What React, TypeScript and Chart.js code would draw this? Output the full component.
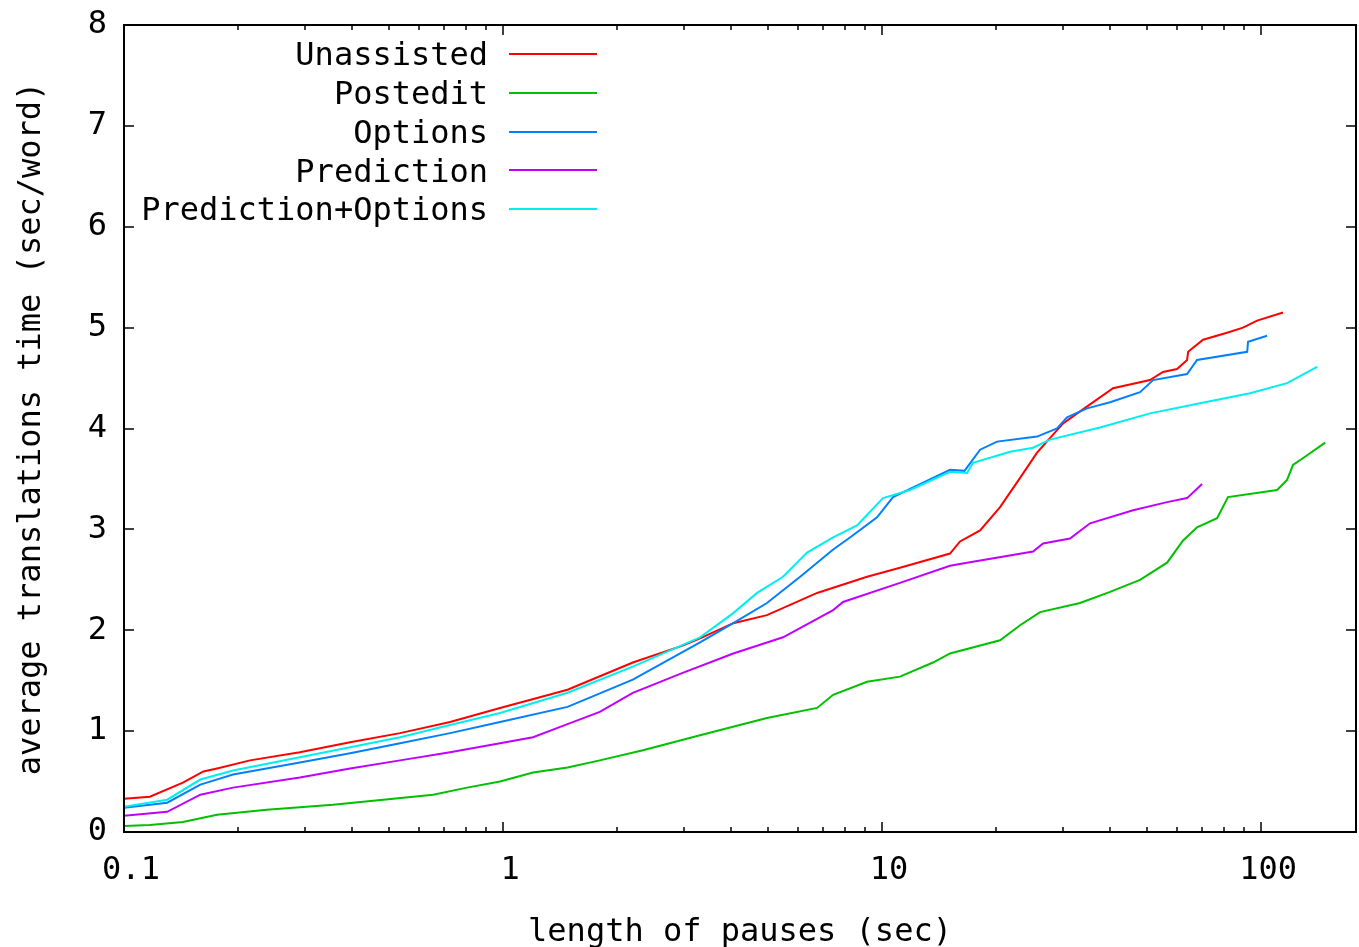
import React, { useEffect, useRef } from "react";
import { Chart, registerables } from "chart.js";
Chart.register(...registerables);

const seriesNames = ["Unassisted", "Postedit", "Options", "Prediction", "Prediction+Options"];
const seriesColors = ["#ff0000", "#00c000", "#0080ff", "#c000ff", "#00eeee"];

const unassistedX = [0.1, 0.117, 0.143, 0.162, 0.176, 0.215, 0.291, 0.395, 0.535, 0.725, 0.982, 1.48, 2.2, 2.99, 3.31, 4.05, 4.97, 6.74, 9.13, 11.15, 15.11, 16.06, 18.14, 20.48, 23.13, 25.64, 30.03, 33.3, 40.69, 50.94, 55.1, 60.0, 63.8, 64.2, 70.3, 81.3, 89.6, 97.6, 114.3];
const unassistedY = [0.33, 0.35, 0.49, 0.6, 0.63, 0.71, 0.79, 0.89, 0.98, 1.09, 1.23, 1.41, 1.68, 1.85, 1.92, 2.07, 2.15, 2.37, 2.53, 2.62, 2.76, 2.88, 2.99, 3.22, 3.51, 3.76, 4.05, 4.17, 4.4, 4.48, 4.56, 4.59, 4.68, 4.76, 4.88, 4.95, 5.0, 5.07, 5.15];

const posteditX = [0.1, 0.117, 0.143, 0.176, 0.238, 0.356, 0.483, 0.654, 0.804, 0.982, 1.2, 1.48, 1.8, 2.34, 3.31, 4.97, 6.74, 7.43, 9.13, 11.15, 13.63, 15.11, 20.48, 23.13, 26.12, 33.3, 39.96, 47.94, 56.49, 62.27, 67.78, 76.54, 81.8, 110.2, 117.1, 121.4, 130.6, 147.6];
const posteditY = [0.06, 0.07, 0.1, 0.17, 0.22, 0.27, 0.32, 0.37, 0.44, 0.5, 0.59, 0.64, 0.71, 0.81, 0.96, 1.13, 1.23, 1.36, 1.49, 1.54, 1.68, 1.77, 1.9, 2.05, 2.18, 2.27, 2.38, 2.5, 2.67, 2.89, 3.02, 3.11, 3.32, 3.39, 3.49, 3.64, 3.72, 3.86];

const optionsX = [0.1, 0.13, 0.159, 0.194, 0.291, 0.395, 0.535, 0.725, 0.982, 1.48, 2.2, 3.31, 4.05, 4.97, 6.08, 7.43, 8.23, 9.7, 10.69, 15.11, 16.5, 18.14, 20.11, 25.64, 28.95, 30.77, 34.74, 39.96, 47.94, 51.88, 63.79, 67.78, 91.9, 92.4, 103.7];
const optionsY = [0.24, 0.29, 0.47, 0.57, 0.69, 0.78, 0.88, 0.98, 1.09, 1.24, 1.51, 1.88, 2.07, 2.27, 2.53, 2.8, 2.92, 3.12, 3.32, 3.59, 3.58, 3.79, 3.87, 3.92, 4.0, 4.11, 4.2, 4.26, 4.36, 4.48, 4.54, 4.68, 4.76, 4.86, 4.92];

const predictionX = [0.1, 0.13, 0.159, 0.194, 0.291, 0.395, 0.535, 0.725, 0.982, 1.2, 1.41, 1.8, 2.2, 2.99, 4.05, 5.48, 7.43, 7.89, 11.15, 15.11, 16.76, 25.03, 26.6, 31.33, 35.38, 45.96, 56.49, 63.79, 69.88];
const predictionY = [0.16, 0.2, 0.37, 0.44, 0.54, 0.63, 0.71, 0.79, 0.88, 0.94, 1.04, 1.19, 1.38, 1.58, 1.77, 1.93, 2.2, 2.28, 2.47, 2.64, 2.67, 2.78, 2.86, 2.91, 3.06, 3.19, 3.27, 3.31, 3.45];

const predOptX = [0.1, 0.13, 0.159, 0.194, 0.291, 0.395, 0.535, 0.725, 0.982, 1.48, 2.2, 3.31, 4.05, 4.68, 5.48, 6.34, 7.43, 8.59, 10.06, 11.86, 15.11, 16.76, 17.38, 21.77, 25.03, 27.75, 37.59, 50.94, 69.0, 93.5, 117.1, 140.5];
const predOptY = [0.25, 0.32, 0.52, 0.61, 0.74, 0.84, 0.94, 1.06, 1.18, 1.38, 1.64, 1.93, 2.17, 2.37, 2.53, 2.77, 2.92, 3.04, 3.31, 3.39, 3.57, 3.56, 3.66, 3.77, 3.81, 3.89, 4.01, 4.15, 4.25, 4.35, 4.45, 4.61];

const xTickValues = [0.1, 1, 10, 100];
const xTickLabels = ["0.1", "1", "10", "100"];
const yTickValues = [0, 1, 2, 3, 4, 5, 6, 7, 8];
const xMin = 0.1;
const xMax = 178;
const xTitle = "length of pauses (sec)";
const yTitle = "average translations time (sec/word)";

const FONT_FAMILY = '"DejaVu Sans Mono", monospace';
const FONT_SIZE = 32;

const seriesX = [unassistedX, posteditX, optionsX, predictionX, predOptX];
const seriesY = [unassistedY, posteditY, optionsY, predictionY, predOptY];

const framePlugin = {
  id: "gnuframe",
  afterDraw(chart: any) {
    const ctx = chart.ctx;
    const { left, right, top, bottom } = chart.chartArea;
    ctx.save();
    ctx.strokeStyle = "#000";
    ctx.lineWidth = 2;
    ctx.strokeRect(left, top, right - left, bottom - top);
    ctx.lineWidth = 1.5;
    const line = (x1: number, y1: number, x2: number, y2: number) => {
      ctx.beginPath();
      ctx.moveTo(x1, y1);
      ctx.lineTo(x2, y2);
      ctx.stroke();
    };
    const ys = chart.scales.y;
    yTickValues.forEach((v) => {
      const p = Math.round(ys.getPixelForValue(v));
      line(left, p, left + 10, p);
      line(right, p, right - 10, p);
    });
    const xs = chart.scales.x;
    xTickValues.forEach((d) => {
      for (let m = 1; m <= 9; m++) {
        const v = d * m;
        if (v > xMax) break;
        const p = Math.round(xs.getPixelForValue(v));
        const len = m === 1 ? 10 : 5;
        line(p, bottom, p, bottom - len);
        line(p, top, p, top + len);
      }
    });
    // legend
    ctx.font = `${FONT_SIZE}px ${FONT_FAMILY}`;
    ctx.textAlign = "right";
    ctx.textBaseline = "middle";
    chart.data.datasets.forEach((ds: any, i: number) => {
      const y = 54 + i * 38.75;
      ctx.fillStyle = "#000";
      ctx.fillText(ds.label, 488, y + 3);
      ctx.strokeStyle = ds.borderColor;
      ctx.lineWidth = 2;
      line(509, Math.round(y), 597, Math.round(y));
    });
    ctx.restore();
  },
};

export default function App() {
  const ref = useRef<HTMLCanvasElement | null>(null);
  useEffect(() => {
    document.body.style.margin = "0";
    const canvas = ref.current;
    if (!canvas) return;
    const font = { family: FONT_FAMILY, size: FONT_SIZE };
    const datasets = seriesNames.map((name, i) => ({
      label: name,
      data: seriesX[i].map((x, j) => ({ x, y: seriesY[i][j] })),
      borderColor: seriesColors[i],
      backgroundColor: seriesColors[i],
      borderWidth: 2,
      pointRadius: 0,
      fill: false,
      tension: 0,
      order: seriesNames.length - i,
    }));
    const chart = new Chart(canvas, {
      type: "line",
      data: { datasets },
      options: {
        responsive: false,
        animation: false,
        devicePixelRatio: 1,
        layout: { padding: { left: 0, top: 25, right: 3, bottom: 0 } },
        plugins: { legend: { display: false }, tooltip: { enabled: false } },
        scales: {
          x: {
            type: "logarithmic",
            min: xMin,
            max: xMax,
            grid: { display: false, drawTicks: false },
            border: { display: false },
            afterBuildTicks: (s: any) => {
              s.ticks = xTickValues.map((v) => ({ value: v }));
            },
            afterFit: (s: any) => {
              s.height = 115;
              s.paddingLeft = 0;
              s.paddingRight = 0;
            },
            ticks: {
              callback: (v: any) => {
                const k = xTickValues.indexOf(Number(v));
                return k >= 0 ? xTickLabels[k] : "";
              },
              font,
              color: "#000",
              padding: 19,
              labelOffset: 7,
              maxRotation: 0,
              autoSkip: false,
            },
            title: { display: true, text: xTitle, font, color: "#000", padding: { top: 0, bottom: -5 } },
          },
          y: {
            type: "linear",
            min: 0,
            max: 8,
            grid: { display: false, drawTicks: false },
            border: { display: false },
            afterFit: (s: any) => {
              s.width = 124;
              s.paddingTop = 0;
              s.paddingBottom = 0;
            },
            ticks: { stepSize: 1, font, color: "#000", padding: 17 },
            title: { display: true, text: yTitle, font, color: "#000", padding: { top: 12, bottom: 0 } },
          },
        },
      },
      plugins: [framePlugin],
    } as any);
    return () => chart.destroy();
  }, []);
  return <canvas ref={ref} width={1359} height={947} style={{ display: "block" }} />;
}
